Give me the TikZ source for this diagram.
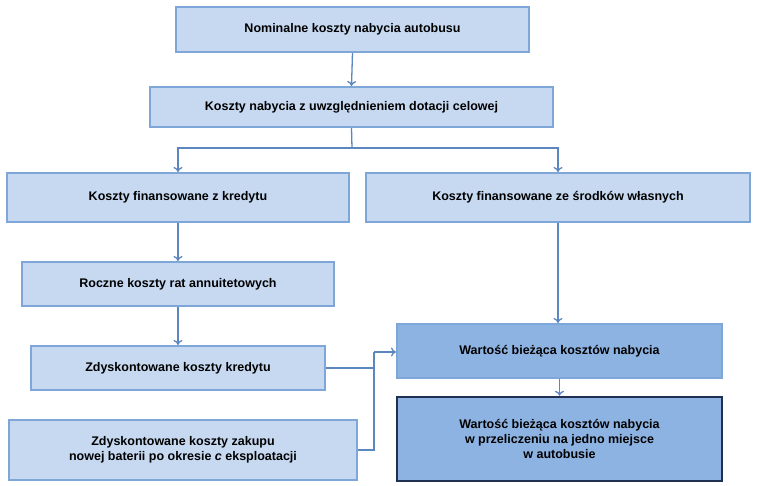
\documentclass[tikz,border=0pt]{standalone}
\usepackage{fontspec}
\setmainfont{Liberation Sans}
\usetikzlibrary{arrows.meta}
\begin{document}
\begin{tikzpicture}[x=1pt,y=-1pt,
  bx/.style={draw=boxline,fill=boxfill,line width=2pt,font=\bfseries\fontsize{12.5}{15}\selectfont,align=center,inner sep=0pt},
  dk/.style={bx,fill=darkfill},
  ar/.style={draw=arrowc,line width=1.3pt,-{To[length=5pt,width=9pt]}},
  ln/.style={draw=arrowc,line width=1.3pt}]
\definecolor{boxfill}{HTML}{C6D9F1}
\definecolor{boxline}{HTML}{7FA6D9}
\definecolor{darkfill}{HTML}{8DB3E2}
\definecolor{arrowc}{HTML}{5B86BF}
\definecolor{navy}{HTML}{1F3050}
\useasboundingbox (0,0) rectangle (757,486);
\node[bx,minimum width=353,minimum height=45] (b1) at (352.5,29.5) {Nominalne koszty nabycia autobusu};
\node[bx,minimum width=403,minimum height=40] (b2) at (351.5,107) {Koszty nabycia z uwzględnieniem dotacji celowej};
\node[bx,minimum width=342,minimum height=49] (b3) at (178,197.5) {Koszty finansowane z kredytu};
\node[bx,minimum width=384,minimum height=49] (b4) at (558,197.5) {Koszty finansowane ze środków własnych};
\node[bx,minimum width=312,minimum height=44] (b5) at (178,284) {Roczne koszty rat annuitetowych};
\node[bx,minimum width=294,minimum height=44] (b6) at (178,368) {Zdyskontowane koszty kredytu};
\node[bx,minimum width=348,minimum height=60] (b7) at (183,450) {Zdyskontowane koszty zakupu\\nowej baterii po okresie \textit{c} eksploatacji};
\node[dk,minimum width=325,minimum height=54] (b8) at (559.5,351) {Wartość bieżąca kosztów nabycia};
\node[dk,draw=navy,line width=2.5pt,minimum width=325,minimum height=84] (b9) at (559.5,439) {Wartość bieżąca kosztów nabycia\\w przeliczeniu na jedno miejsce\\w autobusie};
\coordinate (j) at (352,148);
\coordinate (m) at (374,352);
\draw[ar] (b1.south) -- (b2.north);
\draw[ln] (b2.south) -- (j);
\draw[ar] (j) -| (b3.north);
\draw[ar] (j) -| (b4.north);
\draw[ar] (b3.south) -- (b5.north);
\draw[ar] (b5.south) -- (b6.north);
\draw[ar] (b4.south) -- (b4.south |- b8.north);
\draw[ln] (b6.east) -| (m);
\draw[ln] (b7.east) -| (m);
\draw[ar] (m) -- (b8.west |- m);
\draw[ar] (b8.south) -- (b9.north);
\end{tikzpicture}
\end{document}
